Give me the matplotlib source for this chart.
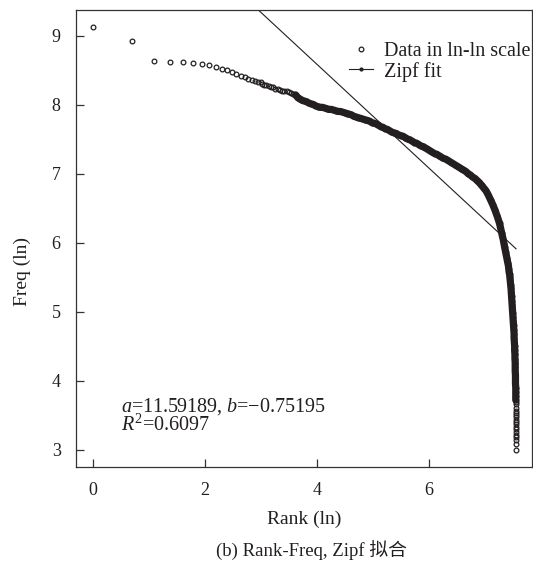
import numpy as np
import matplotlib
matplotlib.use("Agg")
import matplotlib.pyplot as plt
from matplotlib.lines import Line2D

plt.rcParams['font.family'] = ['Liberation Serif', 'Noto Sans CJK SC']
plt.rcParams['mathtext.fontset'] = 'custom'
plt.rcParams['mathtext.rm'] = 'Liberation Serif'
plt.rcParams['mathtext.it'] = 'Liberation Serif:italic'

#================ data ================
# first ranks, one point each
head_rank = [1, 2, 3, 4, 5, 6, 7, 8, 9, 10, 11, 12, 13, 14, 15, 16, 17, 18, 19, 20]
head_lnfreq = [9.13, 8.92, 8.63, 8.61, 8.61, 8.60, 8.59, 8.58, 8.54, 8.52,
               8.50, 8.47, 8.45, 8.42, 8.40, 8.37, 8.35, 8.34, 8.33, 8.33]

# dense band, ln(rank) vs ln(freq)
band_lnrank = [3.02, 3.06, 3.10, 3.14, 3.18, 3.22, 3.26, 3.30, 3.34, 3.38,
               3.42, 3.46, 3.50, 3.54, 3.58, 3.62, 3.66, 3.70, 3.74, 3.78,
               3.82, 3.86, 3.90, 3.94, 3.98, 4.02, 4.06, 4.10, 4.14, 4.18,
               4.22, 4.26, 4.30, 4.34, 4.38, 4.42, 4.46, 4.50, 4.54, 4.58,
               4.62, 4.66, 4.70, 4.74, 4.78, 4.82, 4.86, 4.90, 4.94, 4.98,
               5.02, 5.06, 5.10, 5.14, 5.18, 5.22, 5.26, 5.30, 5.34, 5.38,
               5.42, 5.46, 5.50, 5.54, 5.58, 5.62, 5.66, 5.70, 5.74, 5.78,
               5.82, 5.86, 5.90, 5.94, 5.98, 6.02, 6.06, 6.10, 6.14, 6.18,
               6.22, 6.26, 6.30, 6.34, 6.38, 6.42, 6.46, 6.50, 6.54, 6.58,
               6.62, 6.66, 6.70, 6.74, 6.78, 6.82, 6.86, 6.90, 6.94, 6.98,
               7.02, 7.06, 7.10, 7.14, 7.18, 7.22, 7.26, 7.30, 7.33]
band_lnfreq = [8.30, 8.29, 8.28, 8.27, 8.26, 8.25, 8.23, 8.22, 8.21, 8.20,
               8.20, 8.19, 8.18, 8.17, 8.16, 8.14, 8.10, 8.08, 8.06, 8.05,
               8.04, 8.02, 8.01, 8.00, 7.98, 7.97, 7.96, 7.96, 7.95, 7.94,
               7.93, 7.93, 7.92, 7.91, 7.90, 7.90, 7.89, 7.88, 7.87, 7.86,
               7.85, 7.83, 7.82, 7.81, 7.80, 7.79, 7.78, 7.77, 7.76, 7.74,
               7.73, 7.72, 7.70, 7.68, 7.67, 7.65, 7.64, 7.62, 7.60, 7.59,
               7.58, 7.56, 7.55, 7.54, 7.52, 7.50, 7.49, 7.47, 7.45, 7.44,
               7.42, 7.40, 7.39, 7.37, 7.35, 7.33, 7.31, 7.29, 7.28, 7.26,
               7.24, 7.22, 7.21, 7.19, 7.17, 7.15, 7.13, 7.11, 7.09, 7.07,
               7.05, 7.03, 7.00, 6.98, 6.95, 6.93, 6.90, 6.87, 6.83, 6.79,
               6.75, 6.69, 6.62, 6.55, 6.47, 6.38, 6.28, 6.14, 6.03]

# steep tail at the last ranks
tail_lnrank = [7.34, 7.35, 7.36, 7.37, 7.38, 7.39, 7.40, 7.41, 7.42, 7.425,
               7.43, 7.44, 7.445, 7.45, 7.455, 7.46, 7.465, 7.47, 7.475, 7.48,
               7.485, 7.49, 7.495, 7.50, 7.505, 7.51, 7.515, 7.52, 7.52, 7.525,
               7.53, 7.53, 7.535, 7.535, 7.54, 7.54, 7.54, 7.545, 7.545, 7.545,
               7.55, 7.55, 7.55, 7.55, 7.55, 7.55, 7.55, 7.55, 7.55, 7.55,
               7.55, 7.55, 7.55, 7.55, 7.555, 7.555, 7.555, 7.555, 7.555, 7.555,
               7.555, 7.555]
tail_lnfreq = [5.98, 5.94, 5.90, 5.86, 5.82, 5.78, 5.74, 5.70, 5.66, 5.62,
               5.58, 5.54, 5.50, 5.46, 5.42, 5.38, 5.34, 5.28, 5.22, 5.16,
               5.10, 5.04, 4.98, 4.92, 4.86, 4.80, 4.74, 4.68, 4.62, 4.56,
               4.50, 4.44, 4.38, 4.32, 4.26, 4.20, 4.14, 4.08, 4.02, 3.96,
               3.90, 3.84, 3.78, 3.72, 3.69, 3.66, 3.61, 3.56, 3.53, 3.50,
               3.47, 3.43, 3.40, 3.37, 3.33, 3.30, 3.26, 3.22, 3.18, 3.14,
               3.09, 3.00]

fit_a = 11.59189
fit_b = -0.75195
fit_r2 = 0.6097
#=============================================================

INK = '#231f20'

x_data = np.concatenate([np.log(head_rank), band_lnrank, tail_lnrank])
y_data = np.concatenate([head_lnfreq, band_lnfreq, tail_lnfreq])

# where the circles overlap into a solid black band
dense = (x_data >= 3.62) & (y_data >= 3.70)

fig = plt.figure(figsize=(5.33, 5.63), dpi=100)
ax = fig.add_axes([76/533, 96/563, 456/533, 457/563])

ax.plot(x_data[dense], y_data[dense], '-', color=INK, lw=5.2,
        solid_capstyle='round', solid_joinstyle='round', zorder=3)
ax.plot(x_data, y_data, 'o', mfc='none', mec=INK, ms=3.4, mew=0.9,
        linestyle='none', zorder=4)
x_fit = np.array([0.0, x_data.max()])
ax.plot(x_fit, fit_a + fit_b * x_fit, '-', color=INK, lw=0.8, zorder=2)

ax.set_xlim(-0.30, 7.84)
ax.set_ylim(2.75, 9.37)
ax.set_xticks([0, 2, 4, 6])
ax.set_yticks([3, 4, 5, 6, 7, 8, 9])
ax.tick_params(direction='in', length=6, width=0.9, labelsize=13, pad=11,
               top=False, right=False, colors='#333333', labelcolor=INK)
for s in ax.spines.values():
    s.set_linewidth(0.9)
    s.set_color('#333333')

ax.text(0.51, 3.28, '$a$=11.59189, $b$=−0.75195\n' + r'$R^{\mathrm{2}}$=' + f'{fit_r2:.4f}',
        fontsize=14.5, color=INK, va='baseline', linespacing=0.85)

h1 = Line2D([], [], marker='o', mfc='none', mec=INK, ms=3.4, mew=0.9, linestyle='none')
h2 = Line2D([], [], marker='o', color=INK, ms=2, lw=0.8)
ax.legend([h1, h2], ['Data in ln-ln scale', 'Zipf fit'], loc='upper right',
          bbox_to_anchor=(0.996, 0.931), frameon=False, fontsize=14.5,
          handlelength=1.15, handletextpad=0.55, borderpad=0, labelspacing=0.05,
          borderaxespad=0, labelcolor=INK)

fig.text(304/533, 1 - 519/563, 'Rank (ln)', ha='center', va='center', fontsize=14, color=INK)
fig.text(22/533, 1 - 272/563, 'Freq (ln)', ha='center', va='center', rotation=90, fontsize=14, color=INK)
fig.text(311/533, 1 - 550/563, '(b) Rank-Freq, Zipf 拟合', ha='center', va='center', fontsize=13.5, color=INK)

fig.savefig('out.png', dpi=100)
